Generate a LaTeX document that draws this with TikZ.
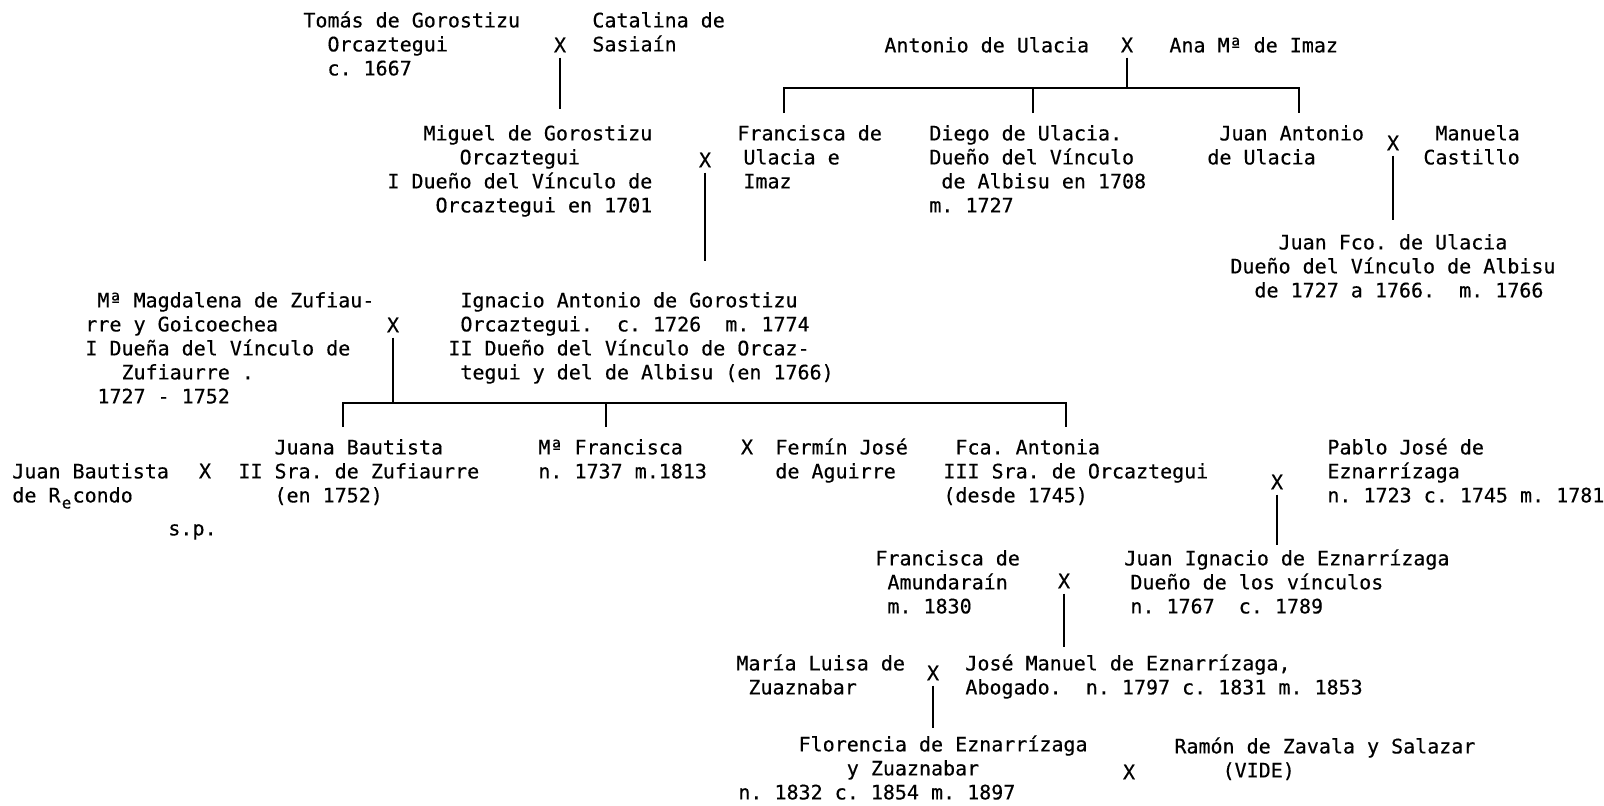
\documentclass[tikz,border=0pt]{standalone}
\usepackage{fontspec}
\newfontfamily\tw[FakeBold=0.4]{DejaVu Sans Mono}
\newlength\cw \setlength\cw{6.02pt}
\newcommand\ind[1]{\hspace*{#1\cw}}
\newcommand\fl{\rule{0pt}{9pt}}
\newcommand\sube{\makebox[\cw]{\raisebox{-0.55ex}{\fontsize{8}{8}\selectfont e}}}
\begin{document}
\begin{tikzpicture}[x=0.5pt,y=-0.5pt,
  per/.style={anchor=north west,inner sep=0pt,align=left,font=\tw\fontsize{10}{12}\selectfont\frenchspacing},
  xm/.style={inner sep=2.5pt,font=\tw\fontsize{10}{12}\selectfont},
  ln/.style={line width=0.8pt}]
\useasboundingbox[fill=white] (0,0) rectangle (1604,805);
% generation 0
\node[per] (tomas) at (303,9) {\fl Tomás de Gorostizu\\\ind{2}Orcaztegui\\\ind{2}c. 1667};
\node[xm] (x1) at (560,45) {X};
\node[per] (catalina) at (592,9) {\fl Catalina de\\Sasiaín};
\node[per] (antonio) at (884,34) {\fl Antonio de Ulacia};
\node[xm] (x3) at (1127,45) {X};
\node[per] (ana) at (1169,34) {\fl Ana Mª de Imaz};
% generation 1
\node[per] (miguel) at (387,122) {\fl\ind{3}Miguel de Gorostizu\\\ind{6}Orcaztegui\\I Dueño del Vínculo de\\\ind{4}Orcaztegui en 1701};
\node[xm] (x2) at (705,160) {X};
\node[per] (francisca) at (737,122) {\fl Francisca de\\\ind{0.5}Ulacia e\\\ind{0.5}Imaz};
\node[per] (diego) at (929,122) {\fl Diego de Ulacia.\\Dueño del Vínculo\\\ind{1}de Albisu en 1708\\m. 1727};
\node[per] (juanantonio) at (1207,122) {\fl\ind{1}Juan Antonio\\de Ulacia};
\node[xm] (x4) at (1393,143) {X};
\node[per] (manuela) at (1423,122) {\fl\ind{1}Manuela\\Castillo};
\node[per] (juanfco) at (1230,231) {\fl\ind{4}Juan Fco. de Ulacia\\Dueño del Vínculo de Albisu\\\ind{2}de 1727 a 1766.\ind{2}m. 1766};
% generation 2
\node[per] (magdalena) at (85,289) {\fl\ind{1}Mª Magdalena de Zufiau-\\rre y Goicoechea\\I Dueña del Vínculo de\\\ind{3}Zufiaurre .\\\ind{1}1727 - 1752};
\node[xm] (x5) at (393,325) {X};
\node[per] (ignacio) at (448,289) {\fl\ind{1}Ignacio Antonio de Gorostizu\\\ind{1}Orcaztegui.\ind{2}c. 1726\ind{2}m. 1774\\II Dueño del Vínculo de Orcaz-\\\ind{1}tegui y del de Albisu (en 1766)};
% generation 3
\node[per] (juanbautista) at (12,460) {\fl Juan Bautista\\de R\sube condo};
\node[xm] (x6) at (205,471) {X};
\node[per] (sp) at (168,517) {\fl s.p.};
\node[per] (juana) at (238,436) {\fl\ind{3}Juana Bautista\\II Sra. de Zufiaurre\\\ind{3}(en 1752)};
\node[per] (mfrancisca) at (538,436) {\fl Mª Francisca\\n. 1737 m.1813};
\node[xm] (x7) at (747,447) {X};
\node[per] (fermin) at (775,436) {\fl Fermín José\\de Aguirre};
\node[per] (fca) at (943,436) {\fl\ind{1}Fca. Antonia\\III Sra. de Orcaztegui\\(desde 1745)};
\node[xm] (x8) at (1277,482) {X};
\node[per] (pablo) at (1327,436) {\fl Pablo José de\\Eznarrízaga\\n. 1723 c. 1745 m. 1781};
% generation 4
\node[per] (amundarain) at (875,547) {\fl Francisca de\\\ind{1}Amundaraín\\\ind{1}m. 1830};
\node[xm] (x9) at (1064,581) {X};
\node[per] (juanignacio) at (1124,547) {\fl Juan Ignacio de Eznarrízaga\\\ind{0.5}Dueño de los vínculos\\\ind{0.5}n. 1767\ind{2}c. 1789};
% generation 5
\node[per] (marialuisa) at (736,652) {\fl María Luisa de\\\ind{1}Zuaznabar};
\node[xm] (x10) at (933,673) {X};
\node[per] (josemanuel) at (965,652) {\fl José Manuel de Eznarrízaga,\\Abogado.\ind{2}n. 1797 c. 1831 m. 1853};
% generation 6
\node[per] (florencia) at (738,733) {\fl\ind{5}Florencia de Eznarrízaga\\\ind{9}y Zuaznabar\\n. 1832 c. 1854 m. 1897};
\node[xm] (x11) at (1129,772) {X};
\node[per] (ramon) at (1174,735) {\fl Ramón de Zavala y Salazar\\\ind{4}(VIDE)};
% bus coordinates
\coordinate (b1l) at (784,88);
\coordinate (b1m) at (1033,88);
\coordinate (b1r) at (1299,88);
\coordinate (b2l) at (343,403);
\coordinate (b2m) at (606,403);
\coordinate (b2r) at (1066,403);
% connectors
\draw[ln,shorten >=6.5pt] (x1.south) -- (x1.south |- miguel.north);
\draw[ln] (x3.south) -- (x3.south |- b1l);
\draw[ln,shorten <=4.5pt,shorten >=4.5pt] (b1l |- francisca.north) -- (b1l) -- (b1r) -- (b1r |- juanantonio.north);
\draw[ln,shorten <=4.5pt] (b1m |- diego.north) -- (b1m);
\draw[ln,shorten >=14pt] (x2.south) -- (x2.south |- ignacio.north);
\draw[ln,shorten >=5.5pt] (x4.south) -- (x4.south |- juanfco.north);
\draw[ln] (x5.south) -- (x5.south |- b2l);
\draw[ln,shorten <=4.5pt,shorten >=4.5pt] (b2l |- juana.north) -- (b2l) -- (b2r) -- (b2r |- fca.north);
\draw[ln,shorten <=4.5pt] (b2m |- mfrancisca.north) -- (b2m);
\draw[ln,shorten >=1pt] (x8.south) -- (x8.south |- juanignacio.north);
\draw[ln,shorten >=2.5pt] (x9.south) -- (x9.south |- josemanuel.north);
\draw[ln,shorten >=2.5pt] (x10.south) -- (x10.south |- florencia.north);
\end{tikzpicture}
\end{document}
